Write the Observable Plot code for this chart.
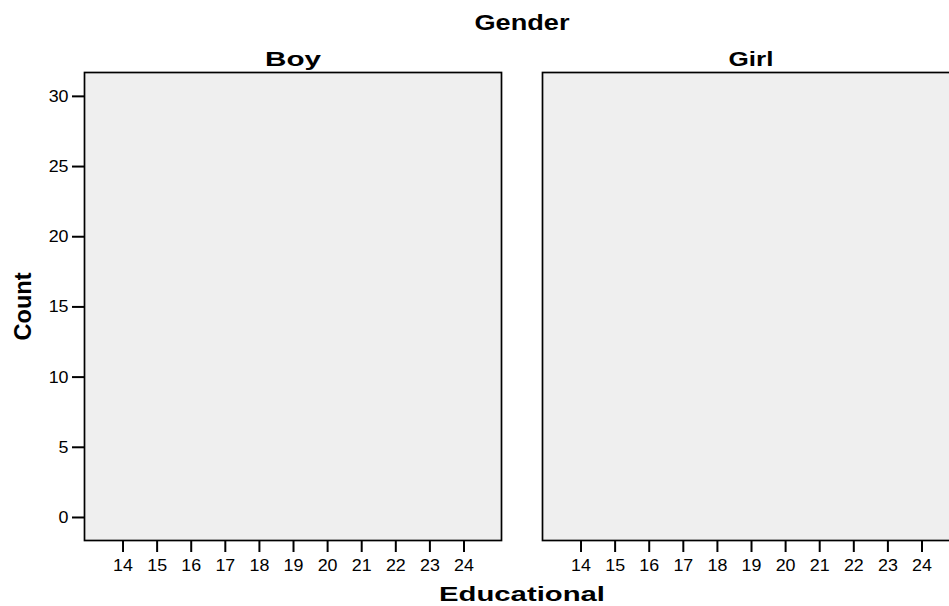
<!DOCTYPE html>
<html>
<head>
<meta charset="utf-8">
<script src="https://cdn.jsdelivr.net/npm/d3@7"></script>
<script src="https://cdn.jsdelivr.net/npm/@observablehq/plot@0.6"></script>
<style>
  html, body { margin: 0; padding: 0; background: #fff; overflow: hidden; }
  #chart { width: 949px; height: 606px; overflow: hidden; }
  #chart svg { max-width: none !important; width: 960px !important; height: 606px !important; }
  #chart svg g[aria-label$="tick label"] text { font-size: 17px; }
</style>
</head>
<body>
<div id="chart"></div>
<script>
// ---- data ----
const genders = ["Boy", "Girl"];                         // facet categories
const educationalTicks = [14, 15, 16, 17, 18, 19, 20, 21, 22, 23, 24];
const countTicks = [0, 5, 10, 15, 20, 25, 30];
const records = [];                                      // no bars shown in the reference
const xTitle = "Educational";
const yTitle = "Count";
const facetTitle = "Gender";

const font = "Liberation Sans, Arial, sans-serif";

const chart = Plot.plot({
  width: 960,
  height: 606,
  marginTop: 72,
  marginLeft: 83,
  marginRight: 0,
  marginBottom: 66,
  style: { fontFamily: font, background: "white", color: "black", maxWidth: "none" },
  fx: { domain: genders, paddingInner: 0.0893, paddingOuter: 0, axis: null, label: null },
  x: { domain: [12.87, 25.1], axis: null },
  y: { domain: [-1.64, 31.7], axis: null },
  marks: [
    Plot.frame({ fill: "#efefef", stroke: "black", strokeWidth: 1.7 }),
    Plot.rectY(records, { x1: "x1", x2: "x2", y: "count", fx: "gender", fill: "#3e58ac" }),
    Plot.axisX({ ticks: educationalTicks, tickSize: 12, tickPadding: 6, fontSize: 17, strokeWidth: 2, label: null }),
    Plot.axisY({ ticks: countTicks, anchor: "left", tickSize: 12, tickPadding: 4, fontSize: 17, strokeWidth: 2, label: null }),
    Plot.text(genders, { fx: d => d, text: d => d, frameAnchor: "top", dy: -21, fontSize: 21, fontWeight: "bold" }),
    Plot.text([facetTitle], { facet: "super", frameAnchor: "top", dy: -58, fontSize: 22, fontWeight: "bold" }),
    Plot.text([xTitle], { facet: "super", frameAnchor: "bottom", dy: 60, fontSize: 21, fontWeight: "bold" }),
    Plot.text([yTitle], { facet: "super", frameAnchor: "left", textAnchor: "middle", dx: -61, rotate: -90, fontSize: 23, fontWeight: "bold" })
  ]
});

document.getElementById("chart").append(chart);

// the reference uses a wide sans face; widen the glyphs to match
const targetLengths = { "Gender": 95, "Boy": 56, "Girl": 45, "Educational": 166, "Count": 68 };
chart.querySelectorAll("text").forEach(t => {
  const s = t.textContent.trim();
  if (!s) return;
  const len = t.getComputedTextLength();
  const target = targetLengths[s] ?? len * 1.05;
  t.setAttribute("textLength", target);
  t.setAttribute("lengthAdjust", "spacingAndGlyphs");
});
</script>
</body>
</html>
